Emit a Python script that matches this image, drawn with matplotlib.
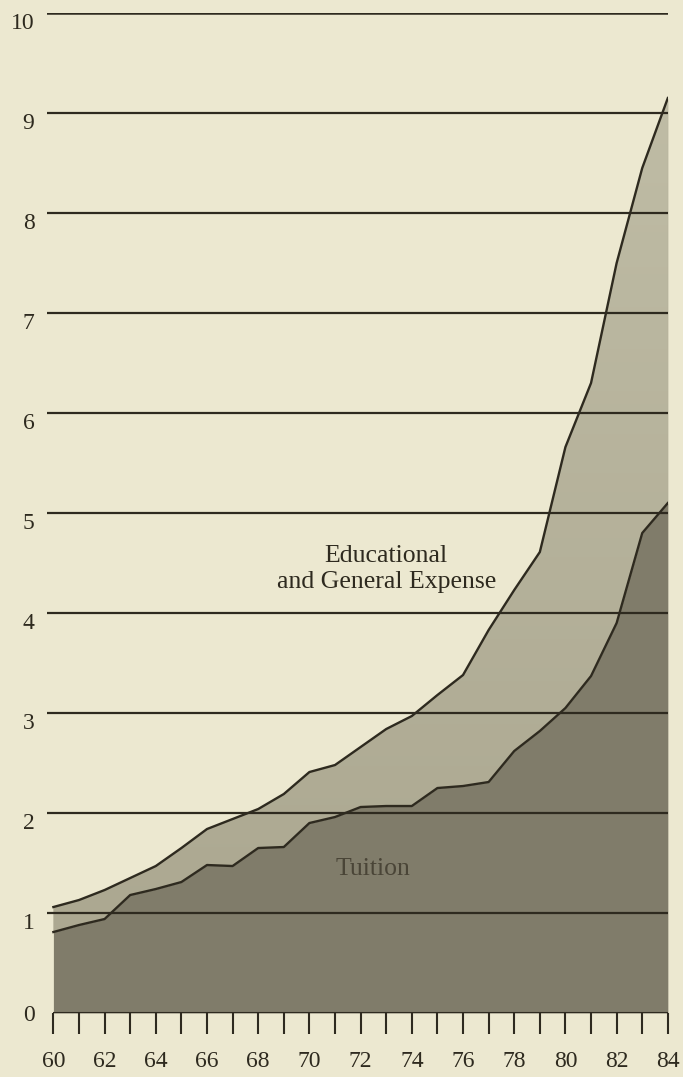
import matplotlib
matplotlib.use("Agg")
import numpy as np
import matplotlib.pyplot as plt
import matplotlib.transforms as mtransforms
from matplotlib.colors import LinearSegmentedColormap

# Index values by fiscal year (1960 = 1.0 approx)
years = list(range(60, 85))
expense = [1.06, 1.13, 1.23, 1.35, 1.47, 1.65, 1.84, 1.94, 2.04, 2.19,
           2.41, 2.48, 2.66, 2.84, 2.97, 3.18, 3.38, 3.83, 4.23, 4.61,
           5.66, 6.30, 7.50, 8.45, 9.15]
tuition = [0.81, 0.88, 0.94, 1.18, 1.24, 1.31, 1.48, 1.47, 1.65, 1.66,
           1.90, 1.96, 2.06, 2.07, 2.07, 2.25, 2.27, 2.31, 2.62, 2.82,
           3.05, 3.37, 3.90, 4.80, 5.10]
y_ticks = list(range(0, 11))
x_labels = [str(y) if y % 2 == 0 else "" for y in years]

paper = "#ece8d0"
ink = "#2e2a1f"
lower_fill = "#807c6a"

plt.rcParams["font.family"] = ["Liberation Serif", "DejaVu Serif"]

fig = plt.figure(figsize=(6.83, 10.77), dpi=100, facecolor=paper)
ax = fig.add_axes([0.0688, 0.0594, 0.909, 0.9285], facecolor=paper)

# E&G band: slight vertical shading, lighter toward the top
band = ax.fill_between(years, tuition, expense, color="#b3af98", lw=0, zorder=0.9)
shade = LinearSegmentedColormap.from_list("band", ["#aca891", "#bfbca5"])
grad = np.linspace(0, 1, 256).reshape(-1, 1)
img = ax.imshow(grad, cmap=shade, origin="lower", aspect="auto",
                extent=[years[0], years[-1], min(tuition), max(expense)], zorder=1)
img.set_clip_path(band.get_paths()[0], transform=ax.transData)

# tuition area at the bottom
ax.fill_between(years, 0, tuition, color=lower_fill, lw=0, zorder=1.5)

ax.plot(years, expense, color=ink, lw=1.7, zorder=3)
ax.plot(years, tuition, color=ink, lw=1.7, zorder=3)

# horizontal rules across the whole plot width
for v in y_ticks[1:]:
    ax.axhline(v, color=ink, lw=1.8 if v == 10 else 1.6, zorder=2)
ax.hlines(0, years[0], years[-1], color=ink, lw=1.5, zorder=2)

ax.set_xlim(59.75, 84.0)
ax.set_ylim(0, 10)

for s in ax.spines.values():
    s.set_visible(False)

ax.set_yticks(y_ticks)
ax.set_yticklabels([str(v) for v in y_ticks])
ax.tick_params(axis="y", length=0, pad=9, labelsize=17, labelcolor=ink)
# numbers sit a little below their rules
nudge = mtransforms.ScaledTranslation(0, -6 / 72, fig.dpi_scale_trans)
for lbl in ax.get_yticklabels()[1:]:
    lbl.set_transform(lbl.get_transform() + nudge)

ax.set_xticks(years)
ax.set_xticklabels(x_labels)
ax.tick_params(axis="x", direction="out", length=15, width=1.5, color=ink,
               pad=12, labelsize=17, labelcolor=ink)

ax.text(73.0, 4.44, "Educational\nand General Expense", ha="center", va="center",
        fontsize=18.5, color=ink, linespacing=1.2, zorder=4)
ax.text(72.5, 1.44, "Tuition", ha="center", va="center",
        fontsize=18.5, color="#4a4537", zorder=4)

fig.savefig("out.png", dpi=100, facecolor=paper)
